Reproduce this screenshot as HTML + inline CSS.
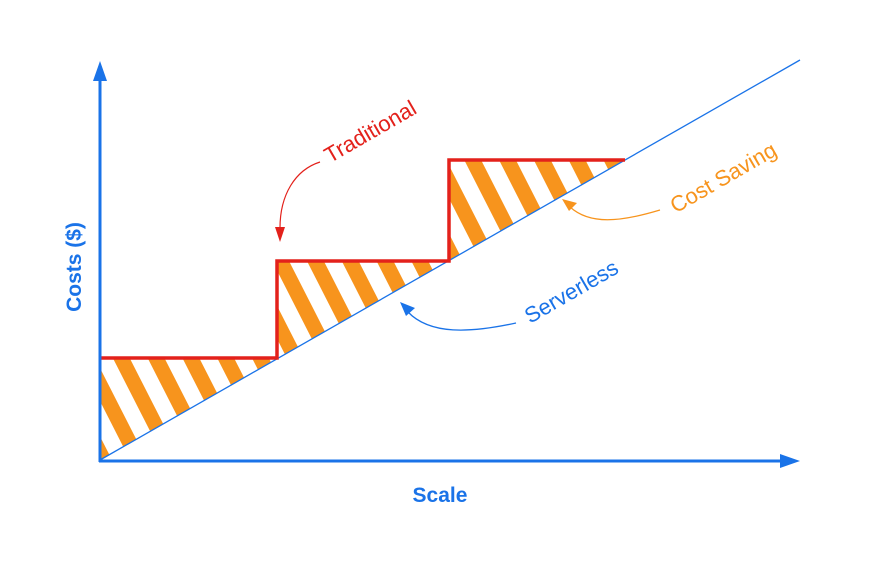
<!DOCTYPE html>
<html><head><meta charset="utf-8"><style>
html,body{margin:0;padding:0;background:#fff;}
svg{display:block;}
text{font-family:"Liberation Sans",sans-serif;}
</style></head><body>
<svg width="876" height="561" viewBox="0 0 876 561" xmlns="http://www.w3.org/2000/svg">
<defs>
<pattern id="h" patternUnits="userSpaceOnUse" width="31" height="31" patternTransform="rotate(-27)">
<rect x="0" y="0" width="15" height="31" fill="#f7941d"/>
</pattern>
</defs>
<polygon points="100,460 100,358 277,358 277,261 449,261 449,160 625,160" fill="url(#h)"/>
<line x1="100" y1="460" x2="800" y2="60" stroke="#1a73e8" stroke-width="1.3"/>
<polyline points="100,358 277,358 277,261 449,261 449,160 625,160" fill="none" stroke="#e3211b" stroke-width="3.5"/>
<line x1="100" y1="462" x2="100" y2="78" stroke="#1a73e8" stroke-width="3"/>
<polygon points="100,61 93,81 107,81" fill="#1a73e8"/>
<line x1="99" y1="461" x2="782" y2="461" stroke="#1a73e8" stroke-width="3"/>
<polygon points="800,461 780,454 780,468" fill="#1a73e8"/>
<text x="440" y="502" font-size="21" font-weight="bold" fill="#1a73e8" text-anchor="middle">Scale</text>
<text transform="translate(81,267) rotate(-90)" font-size="21" font-weight="bold" fill="#1a73e8" text-anchor="middle">Costs ($)</text>
<text transform="translate(374,138) rotate(-30)" font-size="22" fill="#e3211b" text-anchor="middle">Traditional</text>
<path d="M320,162 C295,170 280,195 280,228" fill="none" stroke="#e3211b" stroke-width="1.2"/>
<polygon points="280,242 275,227 285,227" fill="#e3211b"/>
<text transform="translate(727,184) rotate(-30)" font-size="22" fill="#f7941d" text-anchor="middle">Cost Saving</text>
<path d="M660,210 C620,222 590,225 570,207" fill="none" stroke="#f7941d" stroke-width="1.2"/>
<polygon points="562,199 577,203 569,211" fill="#f7941d"/>
<text transform="translate(575,298) rotate(-30)" font-size="22" fill="#1a73e8" text-anchor="middle">Serverless</text>
<path d="M516,323 C470,333 430,335 408,312" fill="none" stroke="#1a73e8" stroke-width="1.3"/>
<polygon points="400,302 415,308 406,316" fill="#1a73e8"/>
</svg>
</body></html>
